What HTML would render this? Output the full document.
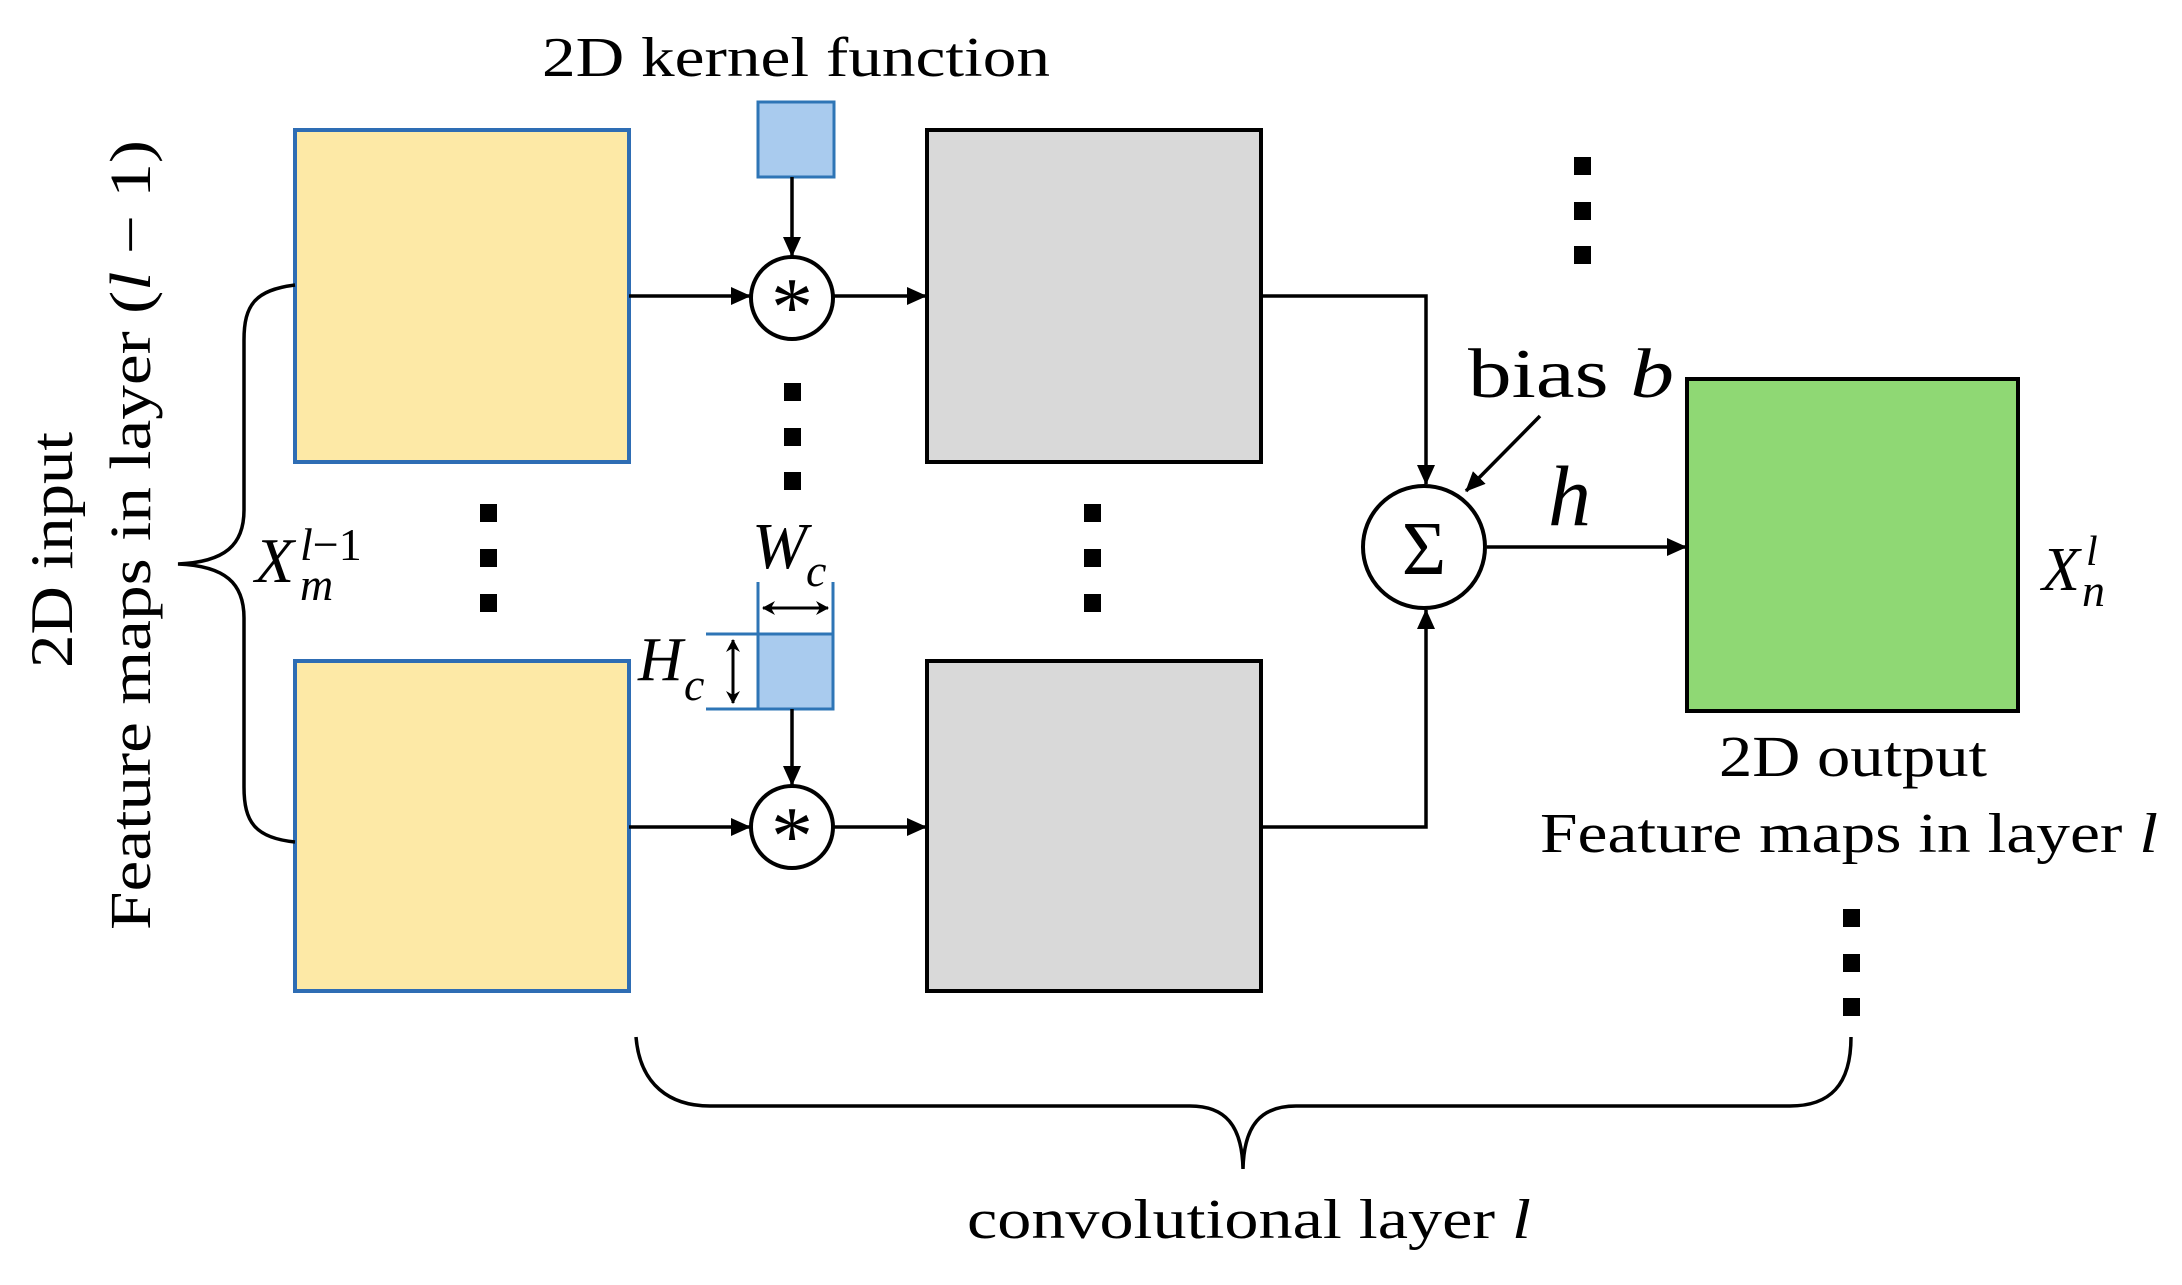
<!DOCTYPE html>
<html><head><meta charset="utf-8"><style>html,body{margin:0;padding:0;background:#fff}svg{display:block}</style></head>
<body>
<svg width="2182" height="1285" viewBox="0 0 2182 1285" xmlns="http://www.w3.org/2000/svg" font-family="Liberation Serif, serif">
<defs>
<marker id="A" markerWidth="20" markerHeight="18" refX="19" refY="9" orient="auto-start-reverse" markerUnits="userSpaceOnUse"><path d="M0,0 L20,9 L0,18 z" fill="#000"/></marker>
<marker id="d" markerWidth="14" markerHeight="14" refX="12" refY="7" orient="auto-start-reverse" markerUnits="userSpaceOnUse"><path d="M0,0 L13,7 L0,14 L4,7 z" fill="#000"/></marker>
</defs>
<rect x="295" y="130" width="334" height="332" fill="#fde9a6" stroke="#2e6db4" stroke-width="4"/>
<rect x="295" y="661" width="334" height="330" fill="#fde9a6" stroke="#2e6db4" stroke-width="4"/>
<rect x="927" y="130" width="334" height="332" fill="#d9d9d9" stroke="#000" stroke-width="4"/>
<rect x="927" y="661" width="334" height="330" fill="#d9d9d9" stroke="#000" stroke-width="4"/>
<rect x="1687" y="379" width="331" height="332" fill="#8fd874" stroke="#000" stroke-width="4"/>
<rect x="758" y="102" width="76" height="75" fill="#a9cbee" stroke="#2e75b6" stroke-width="3"/>
<rect x="758" y="634" width="75" height="75" fill="#a9cbee" stroke="#2e75b6" stroke-width="3"/>
<g stroke="#2e75b6" stroke-width="3">
<line x1="758" y1="582" x2="758" y2="634"/><line x1="833" y1="582" x2="833" y2="634"/>
<line x1="706" y1="634" x2="758" y2="634"/><line x1="706" y1="709" x2="758" y2="709"/>
</g>
<g stroke="#000" stroke-width="3" fill="none">
<line x1="763" y1="608" x2="828" y2="608" marker-start="url(#d)" marker-end="url(#d)"/>
<line x1="733" y1="640" x2="733" y2="703" marker-start="url(#d)" marker-end="url(#d)"/>
</g>
<g stroke="#000" stroke-width="3.5" fill="none">
<line x1="792" y1="177" x2="792" y2="256" marker-end="url(#A)"/>
<line x1="792" y1="709" x2="792" y2="785" marker-end="url(#A)"/>
<line x1="629" y1="296" x2="750" y2="296" marker-end="url(#A)"/>
<line x1="833" y1="296" x2="926" y2="296" marker-end="url(#A)"/>
<line x1="629" y1="827" x2="750" y2="827" marker-end="url(#A)"/>
<line x1="833" y1="827" x2="926" y2="827" marker-end="url(#A)"/>
<polyline points="1261,296 1426,296 1426,484" marker-end="url(#A)"/>
<polyline points="1261,827 1426,827 1426,610" marker-end="url(#A)"/>
<line x1="1540" y1="416" x2="1466" y2="491" marker-end="url(#A)"/>
<line x1="1487" y1="547" x2="1686" y2="547" marker-end="url(#A)"/>
<path d="M295,285 C255,290 244,305 244,340 L244,510 C244,545 225,562 178,564 C225,566 244,583 244,618 L244,787 C244,822 255,838 295,842"/>
<path d="M636,1037 C640,1085 670,1106 710,1106 L1190,1106 C1225,1106 1242,1125 1243,1169 C1244,1125 1261,1106 1296,1106 L1790,1106 C1830,1106 1851,1085 1851,1037"/>
</g>
<g stroke="#000" stroke-width="4" fill="#fff">
<circle cx="792" cy="298" r="41"/>
<circle cx="792" cy="827" r="41"/>
<circle cx="1424" cy="547" r="61"/>
</g>
<g text-anchor="middle" fill="#000">
<text x="792" y="335" font-size="84">*</text>
<text x="792" y="864" font-size="84">*</text>
<text x="1424" y="574" font-size="76">Σ</text>
</g>
<g fill="#000">
<rect x="784" y="383" width="17" height="18"/><rect x="784" y="428" width="17" height="18"/><rect x="784" y="472" width="17" height="18"/>
<rect x="480" y="504" width="17" height="18"/><rect x="480" y="549" width="17" height="18"/><rect x="480" y="594" width="17" height="18"/>
<rect x="1084" y="504" width="17" height="18"/><rect x="1084" y="549" width="17" height="18"/><rect x="1084" y="594" width="17" height="18"/>
<rect x="1574" y="157" width="17" height="18"/><rect x="1574" y="202" width="17" height="18"/><rect x="1574" y="246" width="17" height="18"/>
<rect x="1843" y="909" width="17" height="18"/><rect x="1843" y="954" width="17" height="18"/><rect x="1843" y="998" width="17" height="18"/>
</g>
<g fill="#000">
<text x="542" y="76" font-size="56" textLength="508" lengthAdjust="spacingAndGlyphs">2D kernel function</text>
<text x="1468" y="397" font-size="70" textLength="206" lengthAdjust="spacingAndGlyphs">bias <tspan font-style="italic">b</tspan></text>
<text x="1548" y="525" font-size="86" font-style="italic">h</text>
<text x="1853" y="776" font-size="58" text-anchor="middle" textLength="268" lengthAdjust="spacingAndGlyphs">2D output</text>
<text x="1540" y="852" font-size="56" textLength="618" lengthAdjust="spacingAndGlyphs">Feature maps in layer <tspan font-style="italic">l</tspan></text>
<text x="967" y="1238" font-size="56" textLength="564" lengthAdjust="spacingAndGlyphs">convolutional layer <tspan font-style="italic">l</tspan></text>
<text transform="translate(72,550) rotate(-90)" font-size="60" text-anchor="middle" textLength="236" lengthAdjust="spacingAndGlyphs">2D input</text>
<text transform="translate(150,535) rotate(-90)" font-size="58" text-anchor="middle" textLength="790" lengthAdjust="spacingAndGlyphs">Feature maps in layer (<tspan font-style="italic">l</tspan> − 1)</text>
<text x="255" y="582" font-size="64" font-style="italic">X</text>
<text x="300" y="600" font-size="46" font-style="italic">m</text>
<text x="300" y="560" font-size="46"><tspan font-style="italic">l</tspan>−1</text>
<text x="752" y="568" font-size="66" font-style="italic">W</text>
<text x="806" y="586" font-size="46" font-style="italic">c</text>
<text x="638" y="680" font-size="62" font-style="italic">H</text>
<text x="684" y="700" font-size="46" font-style="italic">c</text>
<text x="2042" y="590" font-size="62" font-style="italic">X</text>
<text x="2082" y="606" font-size="46" font-style="italic">n</text>
<text x="2086" y="565" font-size="42" font-style="italic">l</text>
</g>
</svg>
</body></html>
